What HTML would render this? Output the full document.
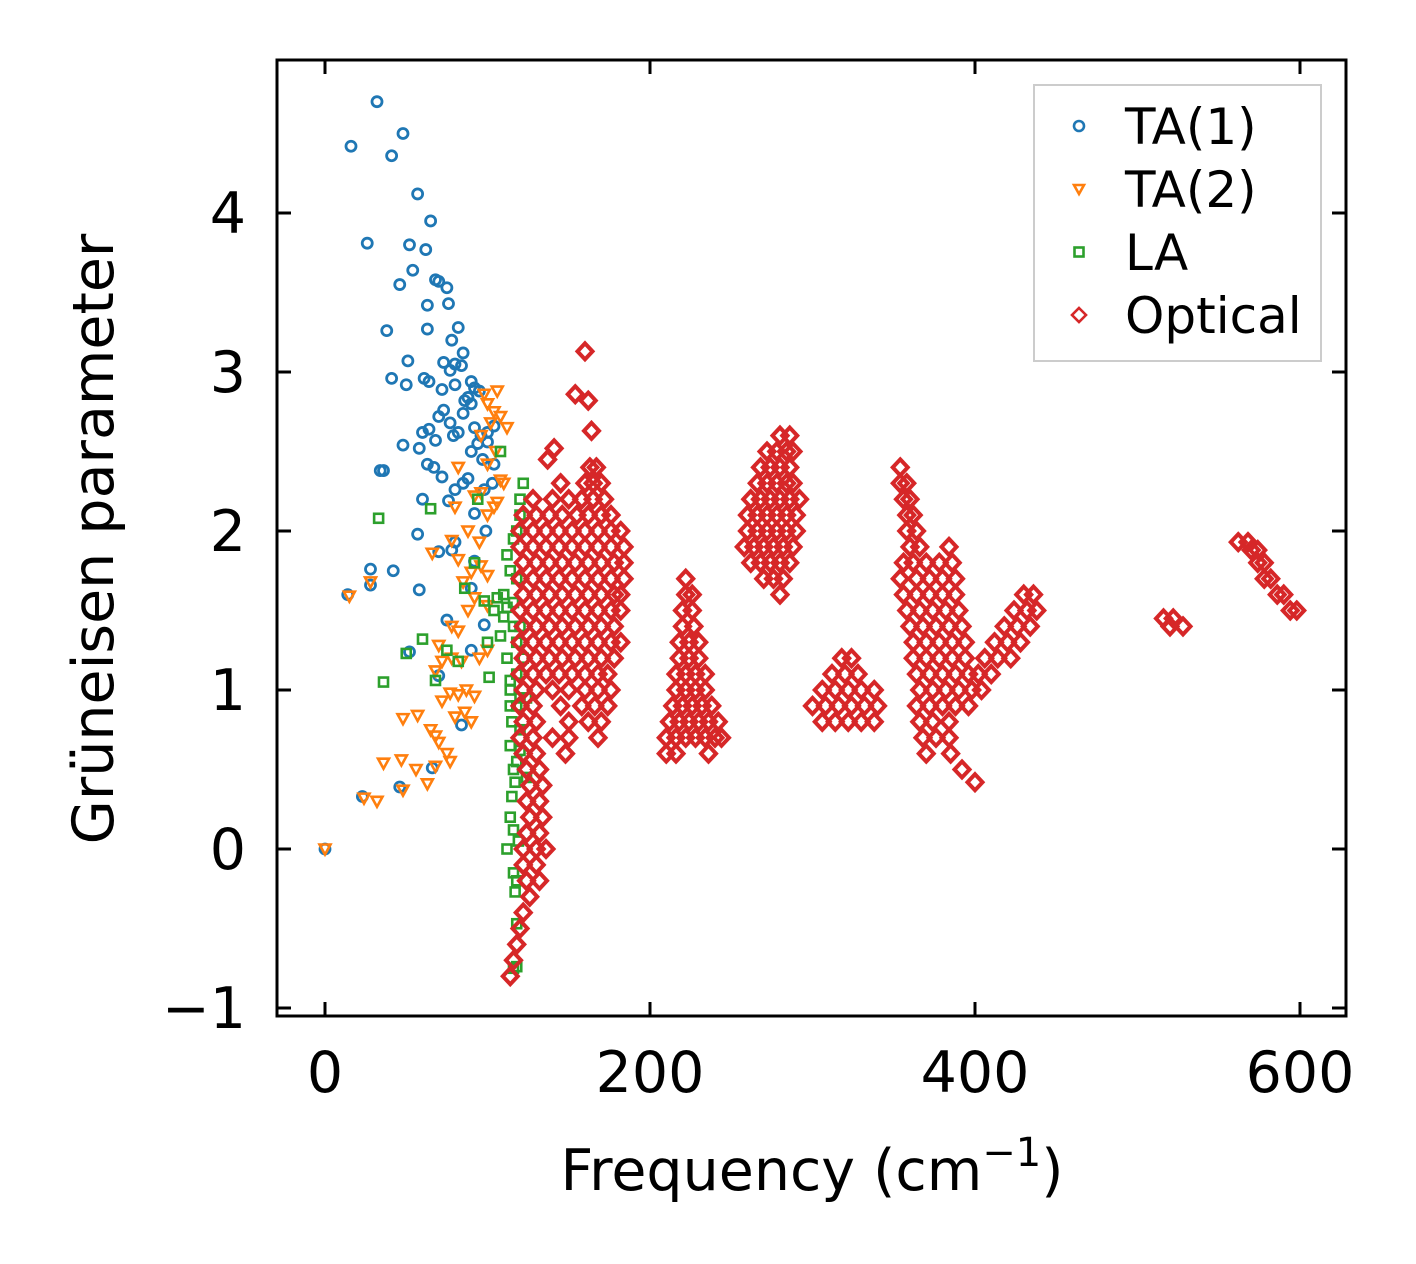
<!DOCTYPE html>
<html><head><meta charset="utf-8">
<style>
html,body{margin:0;padding:0;background:#fff;}
svg{display:block;font-family:"DejaVu Sans","Liberation Sans",sans-serif;}
</style></head>
<body>
<svg id="chart" width="1416" height="1264" viewBox="0 0 1416 1264" xmlns="http://www.w3.org/2000/svg">
<g id="marks"></g>
<rect x="277" y="60" width="1069" height="956" fill="none" stroke="#000" stroke-width="3"/>
<g id="ticks"></g>
<text x="812" y="1190" font-size="57" text-anchor="middle">Frequency (cm<tspan font-size="40" dy="-24">−1</tspan><tspan dy="24">)</tspan></text>
<text transform="translate(113,539) rotate(-90)" font-size="57" text-anchor="middle">Grüneisen parameter</text>
<g>
<rect x="1034" y="85" width="287" height="276" fill="#fff" fill-opacity="0.8" stroke="#ccc" stroke-width="2"/>
<circle cx="1079" cy="126" r="5" fill="none" stroke="#1f77b4" stroke-width="2.6"/>
<text x="1125" y="144" font-size="50">TA(1)</text>
<path d="M1074,185 L1084,185 L1079,194 Z" fill="none" stroke="#ff7f0e" stroke-width="2.6"/>
<text x="1125" y="207" font-size="50">TA(2)</text>
<rect x="1074.5" y="247.5" width="9" height="9" fill="none" stroke="#2ca02c" stroke-width="2.6"/>
<text x="1125" y="270" font-size="50">LA</text>
<path d="M1079,308 L1086,315 L1079,322 L1072,315 Z" fill="none" stroke="#d62728" stroke-width="2.6"/>
<text x="1125" y="333" font-size="50">Optical</text>
</g>
</svg>
<script>
const xTicks=[0,200,400,600];
const yTicks=[-1,0,1,2,3,4];
const yTickLabels=["−1","0","1","2","3","4"];
const ta1=[[0,0],[16,4.42],[32,4.7],[48,4.5],[41,4.36],[57,4.12],[65,3.95],[26,3.81],[52,3.8],[62,3.77],[54,3.64],[68,3.58],[70,3.57],[46,3.55],[75,3.53],[76,3.43],[63,3.42],[82,3.28],[63,3.27],[38,3.26],[78,3.2],[85,3.12],[51,3.07],[73,3.06],[80,3.05],[84,3.04],[77,3.01],[41,2.96],[61,2.96],[50,2.92],[90,2.94],[92,2.9],[72,2.89],[80,2.92],[88,2.84],[95,2.88],[85,2.74],[90,2.8],[73,2.76],[70,2.72],[77,2.68],[64,2.64],[60,2.62],[82,2.62],[92,2.65],[96,2.6],[100,2.62],[104,2.66],[94,2.55],[100,2.56],[79,2.6],[68,2.57],[48,2.54],[58,2.52],[90,2.5],[97,2.45],[104,2.42],[63,2.42],[67,2.4],[36,2.38],[34,2.38],[72,2.34],[88,2.33],[85,2.3],[80,2.26],[98,2.26],[103,2.3],[60,2.2],[76,2.19],[92,2.11],[99,2.0],[57,1.98],[80,1.93],[92,1.81],[78,1.88],[70,1.87],[28,1.76],[42,1.75],[14,1.6],[28,1.66],[58,1.63],[90,1.64],[75,1.44],[98,1.41],[90,1.25],[52,1.24],[70,1.09],[84,0.78],[66,0.51],[46,0.39],[23,0.33],[64,2.94],[86,2.82]];
const ta2=[[0,0],[32,0.3],[24,0.32],[48,0.37],[36,0.54],[47,0.56],[56,0.5],[63,0.41],[68,0.52],[77,0.55],[48,0.82],[57,0.84],[65,0.75],[68,0.71],[70,0.67],[75,0.6],[77,0.98],[72,0.93],[82,0.97],[86,0.86],[90,0.8],[80,0.83],[87,1.0],[92,0.96],[68,1.12],[72,1.18],[78,1.2],[84,1.18],[95,1.2],[100,1.25],[70,1.28],[82,1.37],[88,1.5],[92,1.58],[100,1.53],[78,1.4],[85,1.68],[90,1.74],[96,1.78],[100,1.72],[95,1.93],[88,2.0],[100,2.1],[104,2.15],[92,2.22],[106,2.18],[80,2.15],[82,2.4],[96,2.24],[108,2.32],[110,2.3],[100,2.42],[105,2.5],[96,2.6],[102,2.68],[104,2.75],[108,2.72],[112,2.65],[100,2.8],[98,2.86],[106,2.88],[28,1.68],[15,1.59],[66,1.86],[78,1.94],[82,1.82]];
const la=[[33,2.08],[36,1.05],[50,1.23],[60,1.32],[65,2.14],[68,1.06],[75,1.25],[82,1.18],[86,1.64],[92,1.8],[94,2.2],[98,1.56],[100,1.3],[101,1.08],[104,1.5],[106,1.58],[108,2.5],[108,1.34],[110,1.46],[112,1.2],[112,1.52],[114,1.06],[114,0.9],[115,0.8],[114,0.65],[116,0.5],[115,0.33],[116,0.12],[116,-0.15],[117,-0.27],[118,-0.47],[116,-0.75],[118,-0.74],[120,0.95],[120,0.75],[118,1.1],[118,1.3],[116,1.55],[114,1.75],[116,1.95],[118,2.0],[120,2.1],[122,2.3],[120,2.2],[118,1.7],[116,1.4],[120,1.4],[122,1.2],[124,0.95],[124,0.45],[120,0.62],[118,0.9],[112,0.0],[114,0.2],[118,-0.2],[119,0.05],[117,0.42],[110,1.6],[112,1.85],[114,1.0],[118,0.55]];
const opticalRows=[
[2.4,[163,167]],[2.3,[145,160,165,170]],[2.2,[128,140,150,158,165,172]],[2.1,[122,130,138,146,155,162,170,176]],
[2.0,[120,128,136,144,152,160,168,176,182]],[1.9,[120,128,136,144,152,160,168,176,184]],[1.8,[122,130,138,146,154,162,170,178,184]],
[1.7,[120,128,136,144,152,160,168,176,184]],[1.6,[122,130,138,146,154,162,170,178,182]],[1.5,[120,128,136,144,152,160,168,176,182]],
[1.4,[122,130,138,146,154,162,170,178]],[1.3,[120,128,136,144,152,160,168,176,182]],[1.2,[122,130,138,146,154,162,170,178]],
[1.1,[120,128,136,144,152,160,168,174]],[1.0,[122,130,140,150,160,168,176]],[0.9,[120,128,145,158,166,174]],[0.8,[122,130,150,162,170]],
[0.7,[120,128,140,150,168]],[0.6,[122,130,148]],[0.5,[124,132]],[0.4,[126,134]],[0.3,[124,132]],[0.2,[126,134]],[0.1,[124,132]],
[0.0,[122,130,136]],[-0.1,[122,130]],[-0.2,[124,132]],[-0.3,[126]],[-0.4,[122]],[-0.5,[120]],[-0.6,[118]],[-0.7,[116]],[-0.8,[114]],
[2.86,[154]],[3.13,[160]],[2.82,[162]],[2.63,[164]],[2.52,[141]],[2.45,[137]],
[1.7,[222]],[1.6,[222,226]],[1.5,[220,226]],[1.4,[220,227]],[1.3,[218,224,230]],[1.2,[218,224,230]],[1.1,[216,222,228,234]],
[1.0,[216,222,228,234]],[0.9,[214,220,226,232,238]],[0.8,[212,218,224,230,236,242]],[0.7,[210,216,222,228,234,240,244]],[0.6,[210,216,236]],
[2.6,[280,286]],[2.5,[272,278,284,288]],[2.4,[268,274,280,286]],[2.3,[266,272,278,284,288]],[2.2,[262,268,274,280,286,292]],
[2.1,[260,266,272,278,284,290]],[2.0,[260,266,272,278,284,290]],[1.9,[258,264,270,276,282,288]],[1.8,[262,268,274,280,286]],
[1.7,[270,276,282]],[1.6,[280]],
[1.2,[318,324]],[1.1,[312,320,328]],[1.0,[306,314,322,330,338]],[0.9,[300,308,316,324,332,340]],[0.8,[306,314,322,330,338]],
[2.4,[354]],[2.3,[354,358]],[2.2,[356,360]],[2.1,[358,362]],[2.0,[358,364]],[1.9,[360,366,384]],[1.8,[356,362,370,378,386]],
[1.7,[354,364,372,380,388]],[1.6,[356,364,372,380,388,430,436]],[1.5,[358,366,374,382,390,424,432,438]],
[1.4,[360,368,376,384,392,418,426,434]],[1.3,[362,370,378,386,394,412,420,428]],[1.2,[362,370,378,386,394,406,414,422]],
[1.1,[364,372,380,388,396,402,410]],[1.0,[366,374,382,390,398,404]],[0.9,[364,372,380,388,396]],[0.8,[366,374,384]],
[0.7,[368,376,384]],[0.6,[370,385]],[0.5,[392]],[0.42,[400]],
[1.45,[516,522]],[1.4,[520,528]],
[1.93,[562,568]],[1.88,[570,574]],[1.8,[574,578]],[1.7,[578,582]],[1.6,[586,590]],[1.5,[594,598]]
];
const NS="http://www.w3.org/2000/svg";
function sx(v){return 325+v*1.625;}
function sy(v){return 849-v*159;}
const marks=document.getElementById('marks');
function add(tag,attrs,parent){const e=document.createElementNS(NS,tag);for(const k in attrs)e.setAttribute(k,attrs[k]);(parent||marks).appendChild(e);return e;}
ta1.forEach(p=>{const e=add('circle',{cx:sx(p[0]),cy:sy(p[1]),r:5,fill:'none',stroke:'#1f77b4','stroke-width':2.8});

});
ta2.forEach(p=>{const x=sx(p[0]),y=sy(p[1]);const e=add('path',{d:`M${x-5.5},${y-4.5} L${x+5.5},${y-4.5} L${x},${y+5.5} Z`,fill:'none',stroke:'#ff7f0e','stroke-width':2.6});

});
la.forEach(p=>{const x=sx(p[0]),y=sy(p[1]);const e=add('rect',{x:x-4.5,y:y-4.5,width:9,height:9,fill:'none',stroke:'#2ca02c','stroke-width':2.6});

});
opticalRows.forEach(r=>{r[1].forEach(f=>{const x=sx(f),y=sy(r[0]);const e=add('path',{d:`M${x},${y-8} L${x+7.5},${y} L${x},${y+8} L${x-7.5},${y} Z`,fill:'none',stroke:'#d62728','stroke-width':4});

});});
const tk=document.getElementById('ticks');
xTicks.forEach(v=>{const x=sx(v);
add('line',{x1:x,y1:1016,x2:x,y2:1002,stroke:'#000','stroke-width':3},tk);
add('line',{x1:x,y1:60,x2:x,y2:74,stroke:'#000','stroke-width':3},tk);
const t=add('text',{x:x,y:1092,'font-size':57,'text-anchor':'middle'},tk);t.textContent=v;

});
yTicks.forEach((v,i)=>{const y=sy(v);
add('line',{x1:277,y1:y,x2:291,y2:y,stroke:'#000','stroke-width':3},tk);
add('line',{x1:1346,y1:y,x2:1332,y2:y,stroke:'#000','stroke-width':3},tk);
const t=add('text',{x:246,y:y+20,'font-size':57,'text-anchor':'end'},tk);t.textContent=yTickLabels[i];

});
</script>
</body></html>
